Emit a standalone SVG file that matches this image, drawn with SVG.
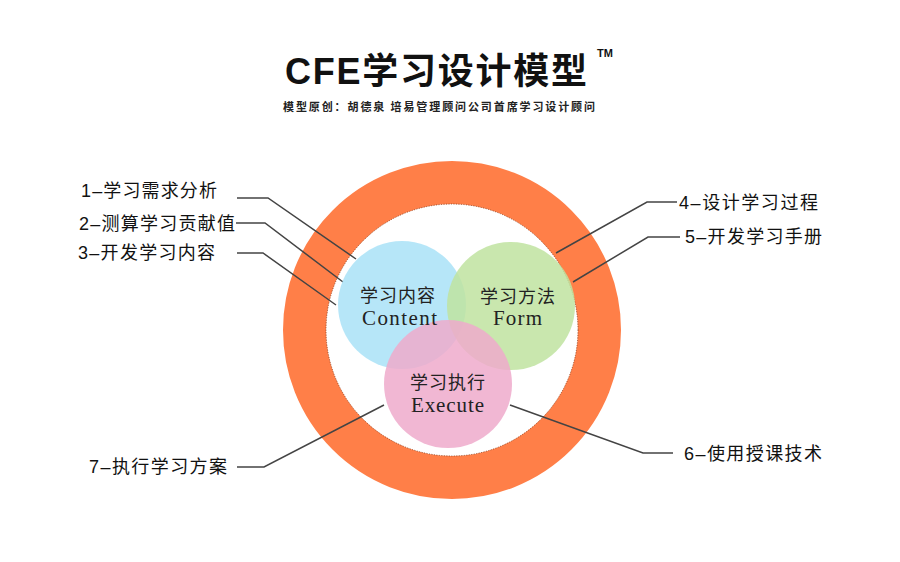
<svg xmlns="http://www.w3.org/2000/svg" width="900" height="562" viewBox="0 0 900 562">
<style>
.lbl{font-family:"Liberation Sans","Noto Sans CJK SC",sans-serif;font-size:18px;fill:#111}
.cn{font-family:"Noto Sans CJK SC",sans-serif;font-size:18px;fill:#222}
.en{font-family:"Liberation Serif","Noto Sans CJK SC",serif;font-size:21px;fill:#222}
.conn{fill:none;stroke:#444;stroke-width:1.5}
.bub{opacity:0.85}
</style>
<rect width="900" height="562" fill="#fff"/>
<g id="title">
<text x="285" y="84" font-family="Liberation Sans,Noto Sans CJK SC,sans-serif" font-size="36" font-weight="bold" fill="#111" textLength="302" lengthAdjust="spacing">CFE学习设计模型</text>
<text x="597" y="57" font-family="Liberation Sans,sans-serif" font-size="11" font-weight="bold" fill="#111">TM</text>
<text x="283" y="111" font-family="Noto Sans CJK SC,sans-serif" font-size="11" font-weight="bold" fill="#222" textLength="312" lengthAdjust="spacing">模型原创：胡德泉 培易管理顾问公司首席学习设计顾问</text>
</g>
<g id="ring">
<circle cx="452" cy="330" r="147.5" fill="none" stroke="#ff7f48" stroke-width="43"/>
<circle cx="452" cy="330" r="126" fill="none" stroke="#7a3a1e" stroke-width="0.8" stroke-dasharray="1 1.5"/>
</g>
<g id="connectors">
<polyline class="conn" points="237,198 268,198 356,259"/>
<polyline class="conn" points="236,223 265,223 343,282"/>
<polyline class="conn" points="237,253 263,253 336,305"/>
<polyline class="conn" points="677,202 647,202 556,253"/>
<polyline class="conn" points="680,237 648,237 573,282"/>
<polyline class="conn" points="673,453 643,453 510,405"/>
<polyline class="conn" points="237,467 264,467 384,405"/>
</g>
<g id="content">
<circle class="bub" cx="402" cy="305" r="64" fill="#a9e2f7"/>
</g>
<g id="form">
<circle class="bub" cx="511" cy="306" r="64" fill="#bfe3a0"/>
</g>
<g id="execute">
<circle class="bub" cx="448" cy="384" r="64" fill="#eeaacb"/>
</g>
<g id="circle-text">
<text class="cn" x="360" y="302" textLength="75" lengthAdjust="spacing">学习内容</text>
<text class="en" x="362" y="325" textLength="75" lengthAdjust="spacing">Content</text>
<text class="cn" x="480" y="303" textLength="75" lengthAdjust="spacing">学习方法</text>
<text class="en" x="493" y="325" textLength="49" lengthAdjust="spacing">Form</text>
<text class="cn" x="410" y="389" textLength="75" lengthAdjust="spacing">学习执行</text>
<text class="en" x="411" y="412" textLength="73" lengthAdjust="spacing">Execute</text>
</g>
<g id="label1"><text class="lbl" x="81" y="197" textLength="136" lengthAdjust="spacing">1–学习需求分析</text></g>
<g id="label2"><text class="lbl" x="79" y="230" textLength="156" lengthAdjust="spacing">2–测算学习贡献值</text></g>
<g id="label3"><text class="lbl" x="78" y="259" textLength="137" lengthAdjust="spacing">3–开发学习内容</text></g>
<g id="label4"><text class="lbl" x="679" y="209" textLength="139" lengthAdjust="spacing">4–设计学习过程</text></g>
<g id="label5"><text class="lbl" x="685" y="243" textLength="137" lengthAdjust="spacing">5–开发学习手册</text></g>
<g id="label6"><text class="lbl" x="684" y="460" textLength="138" lengthAdjust="spacing">6–使用授课技术</text></g>
<g id="label7"><text class="lbl" x="89" y="473" textLength="138" lengthAdjust="spacing">7–执行学习方案</text></g>
</svg>
